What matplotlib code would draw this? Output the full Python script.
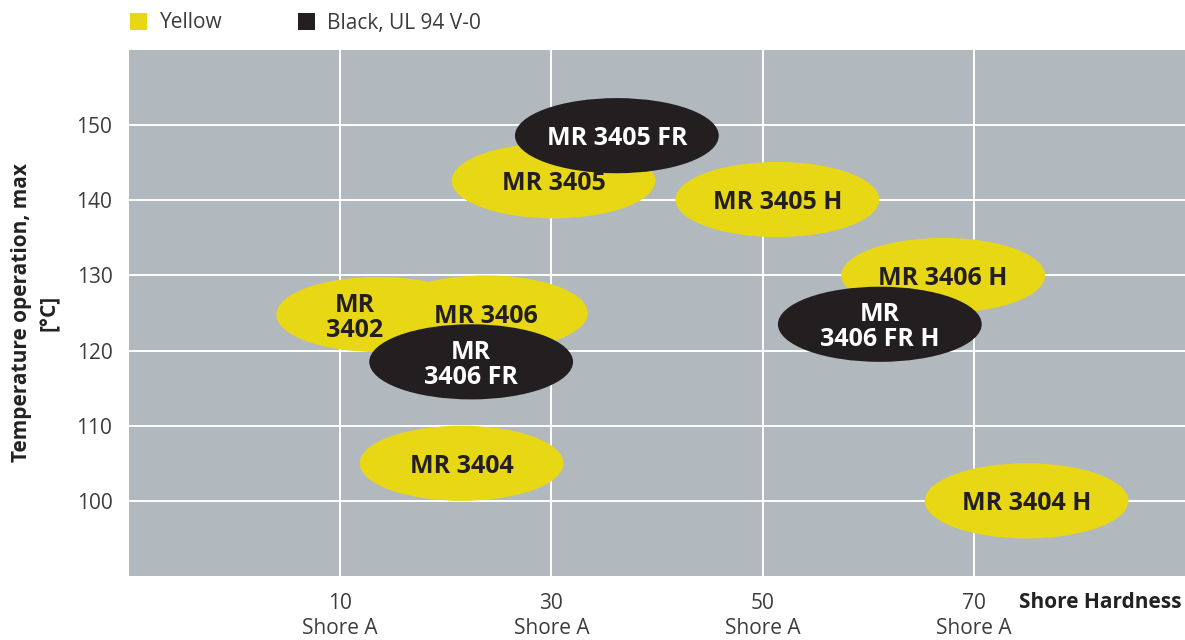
import matplotlib
matplotlib.use('Agg')
import matplotlib.pyplot as plt
from matplotlib.patches import Ellipse, Rectangle
from matplotlib.transforms import offset_copy

plt.rcParams['font.family'] = ['Open Sans', 'DejaVu Sans']

# Products: name, shore hardness, max operating temperature, colour group
names = ['MR\n3402', 'MR 3406', 'MR\n3406 FR', 'MR 3405', 'MR 3405 FR',
         'MR 3406 H', 'MR\n3406 FR H', 'MR 3405 H', 'MR 3404', 'MR 3404 H']
hardness = [13.6, 23.8, 22.4, 30.2, 36.2, 67.1, 61.1, 51.4, 21.5, 75.0]
temperature = [124.8, 125.0, 118.5, 142.6, 148.6, 130.0, 123.5, 140.1, 105.0, 100.0]
group = ['yellow', 'yellow', 'black', 'yellow', 'black',
         'yellow', 'black', 'yellow', 'yellow', 'yellow']
# the MR 3402 label sits left of its ellipse centre so MR 3406 does not hide it
label_dx = [-2.2, 0, 0, 0, 0, 0, 0, 0, 0, 0]

x_ticks = [10, 30, 50, 70]
x_ticklabels = ['10\nShore A', '30\nShore A', '50\nShore A', '70\nShore A']
y_ticks = [100, 110, 120, 130, 140, 150]

YELLOW = '#e8d714'
BLACK = '#231f20'
BG = '#b1b8be'
TXT = '#3c3c3c'
FS = 15

fig = plt.figure(figsize=(11.85, 6.4), dpi=100)
ax = fig.add_axes([129 / 1185, 64 / 640, 1 - 129 / 1185, 526 / 640])
ax.set_facecolor(BG)
ax.set_xlim(-10, 90)
ax.set_ylim(90, 160)

ax.set_xticks(x_ticks)
ax.set_xticklabels(x_ticklabels, fontsize=FS, color=TXT, linespacing=1.3)
ax.set_yticks(y_ticks)
ax.set_yticklabels([str(v) for v in y_ticks], fontsize=FS, color=TXT)
ax.tick_params(axis='x', length=0, pad=12)
ax.tick_params(axis='y', length=0, pad=12)
ax.grid(True, color='white', linewidth=1.4)
ax.set_axisbelow(True)
for s in ax.spines.values():
    s.set_visible(False)

ax.set_ylabel('Temperature operation, max\n[°C]', fontsize=FS, fontweight='bold',
              color='#222222', linespacing=1.45, labelpad=12)
ax.text(0.997, -0.05, 'Shore Hardness', transform=ax.transAxes, ha='right', va='center',
        fontsize=FS, fontweight='bold', color='#222222')

# nudge labels a little below the ellipse centre, as in the original
lbl_trans = offset_copy(ax.transData, fig=fig, x=0, y=-2.2, units='points')

ew, eh = 19.3, 10.0
for n, xv, yv, g, dx in zip(names, hardness, temperature, group, label_dx):
    z = 3 if g == 'yellow' else 5
    fc = YELLOW if g == 'yellow' else BLACK
    tc = '#231f20' if g == 'yellow' else 'white'
    ax.add_patch(Ellipse((xv, yv), ew, eh, facecolor=fc, edgecolor='none', zorder=z))
    ax.text(xv + dx, yv, n, ha='center', va='center', fontsize=18, fontweight='bold',
            color=tc, linespacing=1.0, zorder=z + 1, transform=lbl_trans)

# legend at top
fig.patches.append(Rectangle((130 / 1185, 1 - 30 / 640), 17 / 1185, 17 / 640,
                             transform=fig.transFigure, facecolor=YELLOW, edgecolor='none'))
fig.text(160 / 1185, 1 - 23 / 640, 'Yellow', fontsize=FS, color=TXT, va='center')
fig.patches.append(Rectangle((298 / 1185, 1 - 30 / 640), 17 / 1185, 17 / 640,
                             transform=fig.transFigure, facecolor=BLACK, edgecolor='none'))
fig.text(327 / 1185, 1 - 23 / 640, 'Black, UL 94 V-0', fontsize=FS, color=TXT, va='center')

fig.savefig('out.png', dpi=100)
